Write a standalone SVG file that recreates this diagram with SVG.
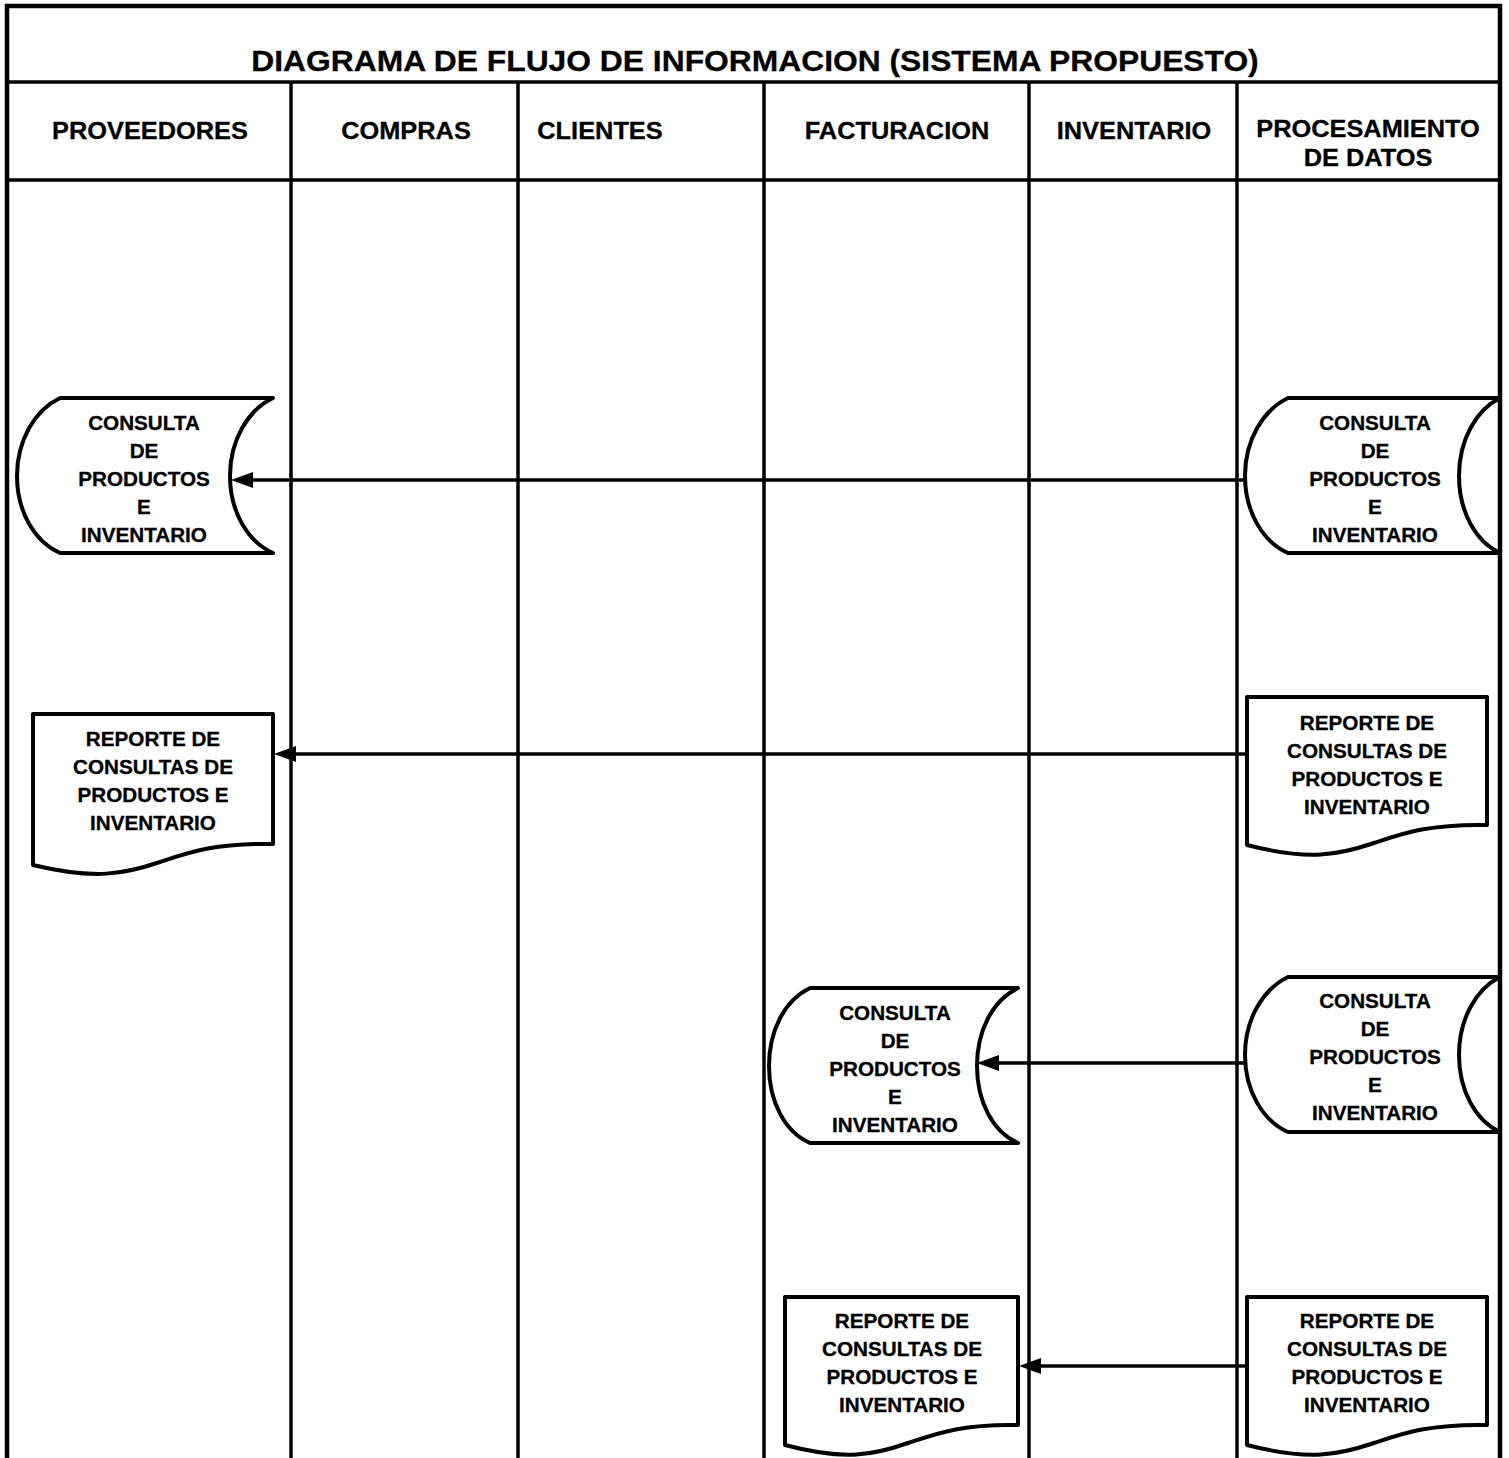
<svg xmlns="http://www.w3.org/2000/svg" width="1509" height="1458" viewBox="0 0 1509 1458">
  <style>
    .frame { fill: none; stroke: #000; stroke-width: 4.5; }
    .grid { fill: none; stroke: #000; stroke-width: 3.5; }
    .shape { fill: #fff; stroke: #000; stroke-width: 4; stroke-linejoin: round; }
    .flow { fill: none; stroke: #000; stroke-width: 3.5; }
    text { font-family: "Liberation Sans", Arial, sans-serif; font-weight: bold; fill: #000; stroke: #000; stroke-width: 0.3; text-anchor: middle; }
    .title { font-size: 30px; }
    .head { font-size: 23.5px; }
    .lbl { font-size: 19.5px; }
  </style>
  <defs>
    <marker id="arrow" viewBox="0 0 22 16" refX="13" refY="8" markerWidth="22" markerHeight="16" markerUnits="userSpaceOnUse" orient="auto">
      <path d="M0,0 L22,8 L0,16 Z" fill="#000"/>
    </marker>
  </defs>

  <!-- table frame, title row, lane headers -->
  <g id="table">
    <path class="frame" d="M7,1458 V6 H1500 V1458"/>
    <line class="grid" x1="7" y1="82" x2="1500" y2="82"/>
    <line class="grid" x1="7" y1="180" x2="1500" y2="180"/>
    <line class="grid" x1="291" y1="82" x2="291" y2="1458"/>
    <line class="grid" x1="518" y1="82" x2="518" y2="1458"/>
    <line class="grid" x1="764" y1="82" x2="764" y2="1458"/>
    <line class="grid" x1="1029" y1="82" x2="1029" y2="1458"/>
    <line class="grid" x1="1237" y1="82" x2="1237" y2="1458"/>
    <text class="title" transform="translate(755,71) scale(1.06,1)">DIAGRAMA DE FLUJO DE INFORMACION (SISTEMA PROPUESTO)</text>
    <text class="head" transform="translate(150,139) scale(1.08,1)">PROVEEDORES</text>
    <text class="head" transform="translate(406,139) scale(1.08,1)">COMPRAS</text>
    <text class="head" transform="translate(600,139) scale(1.08,1)">CLIENTES</text>
    <text class="head" transform="translate(897,139) scale(1.08,1)">FACTURACION</text>
    <text class="head" transform="translate(1134,139) scale(1.08,1)">INVENTARIO</text>
    <text class="head" transform="translate(1368,137) scale(1.08,1)">PROCESAMIENTO</text>
    <text class="head" transform="translate(1368,166) scale(1.08,1)">DE DATOS</text>
  </g>

  <!-- connectors -->
  <g id="connectors">
    <line class="flow" x1="1245" y1="480" x2="240" y2="480" marker-end="url(#arrow)"/>
    <line class="flow" x1="1247" y1="754" x2="283" y2="754" marker-end="url(#arrow)"/>
    <line class="flow" x1="1246" y1="1063" x2="986" y2="1063" marker-end="url(#arrow)"/>
    <line class="flow" x1="1247" y1="1366" x2="1028" y2="1366" marker-end="url(#arrow)"/>
  </g>

  <!-- stored data: PROVEEDORES -->
  <g id="consulta-proveedores">
    <path class="shape" d="M60,398 h213 c-25,12 -43,42 -43,78 c0,36 18,66 43,77 h-213 c-25,-11 -43,-41 -43,-77 c0,-36 18,-66 43,-78 z"/>
    <text class="lbl" transform="translate(144,430) scale(1.06,1)">CONSULTA</text>
    <text class="lbl" transform="translate(144,458) scale(1.06,1)">DE</text>
    <text class="lbl" transform="translate(144,486) scale(1.06,1)">PRODUCTOS</text>
    <text class="lbl" transform="translate(144,514) scale(1.06,1)">E</text>
    <text class="lbl" transform="translate(144,542) scale(1.06,1)">INVENTARIO</text>
  </g>

  <!-- stored data: PROCESAMIENTO DE DATOS (1) -->
  <g id="consulta-datos-1">
    <path class="shape" d="M1288,398 h212 c-24,12 -41,42 -41,78 c0,36 17,66 41,77 h-212 c-25,-11 -43,-41 -43,-77 c0,-36 18,-66 43,-78 z"/>
    <text class="lbl" transform="translate(1375,430) scale(1.06,1)">CONSULTA</text>
    <text class="lbl" transform="translate(1375,458) scale(1.06,1)">DE</text>
    <text class="lbl" transform="translate(1375,486) scale(1.06,1)">PRODUCTOS</text>
    <text class="lbl" transform="translate(1375,514) scale(1.06,1)">E</text>
    <text class="lbl" transform="translate(1375,542) scale(1.06,1)">INVENTARIO</text>
  </g>

  <!-- document: PROVEEDORES -->
  <g id="reporte-proveedores">
    <path class="shape" d="M33,714 h240 v130 c-58,-1 -83,8 -113,18 c-35,12 -65,18 -127,3 z"/>
    <text class="lbl" transform="translate(153,746) scale(1.06,1)">REPORTE DE</text>
    <text class="lbl" transform="translate(153,774) scale(1.06,1)">CONSULTAS DE</text>
    <text class="lbl" transform="translate(153,802) scale(1.06,1)">PRODUCTOS E</text>
    <text class="lbl" transform="translate(153,830) scale(1.06,1)">INVENTARIO</text>
  </g>

  <!-- document: PROCESAMIENTO DE DATOS (1) -->
  <g id="reporte-datos-1">
    <path class="shape" d="M1247,697 h240 v128 c-58,-1 -83,8 -113,18 c-35,12 -65,18 -127,2 z"/>
    <text class="lbl" transform="translate(1367,730) scale(1.06,1)">REPORTE DE</text>
    <text class="lbl" transform="translate(1367,758) scale(1.06,1)">CONSULTAS DE</text>
    <text class="lbl" transform="translate(1367,786) scale(1.06,1)">PRODUCTOS E</text>
    <text class="lbl" transform="translate(1367,814) scale(1.06,1)">INVENTARIO</text>
  </g>

  <!-- stored data: FACTURACION -->
  <g id="consulta-facturacion">
    <path class="shape" d="M810,988 h208 c-25,12 -41,42 -41,78 c0,36 16,66 41,77 h-208 c-25,-11 -41,-41 -41,-77 c0,-36 16,-66 41,-78 z"/>
    <text class="lbl" transform="translate(895,1020) scale(1.06,1)">CONSULTA</text>
    <text class="lbl" transform="translate(895,1048) scale(1.06,1)">DE</text>
    <text class="lbl" transform="translate(895,1076) scale(1.06,1)">PRODUCTOS</text>
    <text class="lbl" transform="translate(895,1104) scale(1.06,1)">E</text>
    <text class="lbl" transform="translate(895,1132) scale(1.06,1)">INVENTARIO</text>
  </g>

  <!-- stored data: PROCESAMIENTO DE DATOS (2) -->
  <g id="consulta-datos-2">
    <path class="shape" d="M1288,977 h212 c-24,12 -41,42 -41,78 c0,36 17,66 41,77 h-212 c-25,-11 -43,-41 -43,-77 c0,-36 18,-66 43,-78 z"/>
    <text class="lbl" transform="translate(1375,1008) scale(1.06,1)">CONSULTA</text>
    <text class="lbl" transform="translate(1375,1036) scale(1.06,1)">DE</text>
    <text class="lbl" transform="translate(1375,1064) scale(1.06,1)">PRODUCTOS</text>
    <text class="lbl" transform="translate(1375,1092) scale(1.06,1)">E</text>
    <text class="lbl" transform="translate(1375,1120) scale(1.06,1)">INVENTARIO</text>
  </g>

  <!-- document: FACTURACION -->
  <g id="reporte-facturacion">
    <path class="shape" d="M785,1297 h233 v128 c-56,-1 -80,8 -110,18 c-34,12 -63,18 -123,2 z"/>
    <text class="lbl" transform="translate(902,1328) scale(1.06,1)">REPORTE DE</text>
    <text class="lbl" transform="translate(902,1356) scale(1.06,1)">CONSULTAS DE</text>
    <text class="lbl" transform="translate(902,1384) scale(1.06,1)">PRODUCTOS E</text>
    <text class="lbl" transform="translate(902,1412) scale(1.06,1)">INVENTARIO</text>
  </g>

  <!-- document: PROCESAMIENTO DE DATOS (2) -->
  <g id="reporte-datos-2">
    <path class="shape" d="M1247,1297 h240 v128 c-58,-1 -83,8 -113,18 c-35,12 -65,18 -127,2 z"/>
    <text class="lbl" transform="translate(1367,1328) scale(1.06,1)">REPORTE DE</text>
    <text class="lbl" transform="translate(1367,1356) scale(1.06,1)">CONSULTAS DE</text>
    <text class="lbl" transform="translate(1367,1384) scale(1.06,1)">PRODUCTOS E</text>
    <text class="lbl" transform="translate(1367,1412) scale(1.06,1)">INVENTARIO</text>
  </g>
</svg>
